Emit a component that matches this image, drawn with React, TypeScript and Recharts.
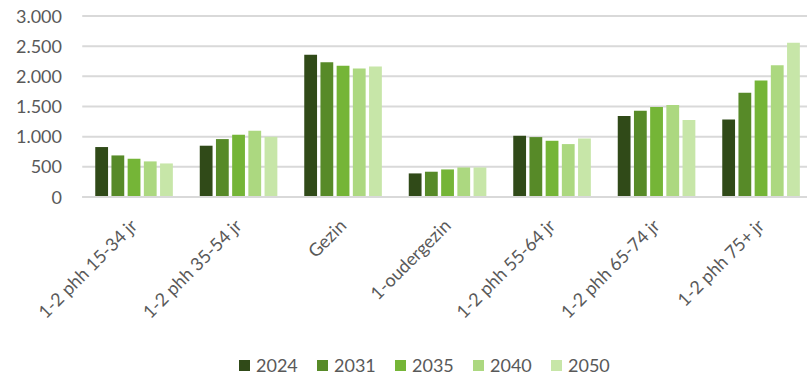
import React from "react";
import { BarChart, Bar, XAxis, YAxis, CartesianGrid } from "recharts";

const categories = [
  "1-2 phh 15-34 jr",
  "1-2 phh 35-54 jr",
  "Gezin",
  "1-oudergezin",
  "1-2 phh 55-64 jr",
  "1-2 phh 65-74 jr",
  "1-2 phh 75+ jr",
];
const years = ["2024", "2031", "2035", "2040", "2050"];
const values2024 = [828, 850, 2356, 391, 1015, 1341, 1285];
const values2031 = [689, 960, 2235, 419, 993, 1429, 1727];
const values2035 = [634, 1032, 2174, 457, 932, 1490, 1931];
const values2040 = [590, 1098, 2129, 490, 877, 1523, 2185];
const values2050 = [556, 998, 2162, 490, 970, 1275, 2555];
const yTicks = [0, 500, 1000, 1500, 2000, 2500, 3000];
const colors = ["#304a18", "#578a28", "#75b537", "#acd880", "#c7e6a8"];

const seriesValues = [values2024, values2031, values2035, values2040, values2050];
const data = categories.map((c, i) => {
  const row: Record<string, any> = { name: c };
  years.forEach((y, k) => (row[y] = seriesValues[k][i]));
  return row;
});

const FONT = "Lato, 'Open Sans', sans-serif";
const TEXT = "#595959";

const fmt = (v: number) => String(v).replace(/\B(?=(\d{3})+(?!\d))/g, ".");

const YTick = (props: any) => {
  const { y, payload } = props;
  return (
    <text x={62} y={y + 6.5} textAnchor="end" fill={TEXT} fontSize={18} fontFamily={FONT}>
      {fmt(payload.value)}
    </text>
  );
};

const XTick = (props: any) => {
  const { x, payload } = props;
  const ax = x + 4;
  const ay = 227;
  return (
    <text
      x={ax}
      y={ay}
      textAnchor="end"
      fill={TEXT}
      fontSize={18}
      fontFamily={FONT}
      transform={`rotate(-45, ${ax}, ${ay})`}
    >
      {payload.value}
    </text>
  );
};

export default function App() {
  return (
    <div style={{ position: "absolute", left: 0, top: 0, width: 807, height: 375, background: "#fff" }}>
      <div style={{ position: "absolute", left: 0, top: 0, width: 807, height: 350, overflow: "hidden" }}>
        <BarChart
          width={830}
          height={375}
          data={data}
          margin={{ top: 16, right: 16.25, left: 12.25, bottom: 28 }}
          barSize={12.8}
          barGap={3.4}
        >
          <CartesianGrid vertical={false} stroke="#d9d9d9" strokeWidth={2} />
          <YAxis
            width={70}
            domain={[0, 3000]}
            ticks={yTicks}
            axisLine={false}
            tickLine={false}
            tick={<YTick />}
            interval={0}
          />
          <XAxis
            dataKey="name"
            height={150}
            interval={0}
            tickLine={false}
            axisLine={{ stroke: "#d9d9d9", strokeWidth: 2 }}
            tick={<XTick />}
          />
          {years.map((y, k) => (
            <Bar key={y} dataKey={y} fill={colors[k]} isAnimationActive={false} />
          ))}
        </BarChart>
      </div>
      <div
        style={{
          position: "absolute",
          left: 239,
          top: 357,
          display: "flex",
          fontFamily: FONT,
          fontSize: 18,
          color: TEXT,
        }}
      >
        {years.map((y, k) => (
          <div
            key={y}
            style={{ width: 78, display: "flex", alignItems: "center", height: 17, whiteSpace: "nowrap" }}
          >
            <span
              style={{
                display: "inline-block",
                width: 11,
                height: 11,
                background: colors[k],
                marginRight: 6,
                flex: "none",
              }}
            />
            <span style={{ lineHeight: "17px" }}>{y}</span>
          </div>
        ))}
      </div>
    </div>
  );
}
